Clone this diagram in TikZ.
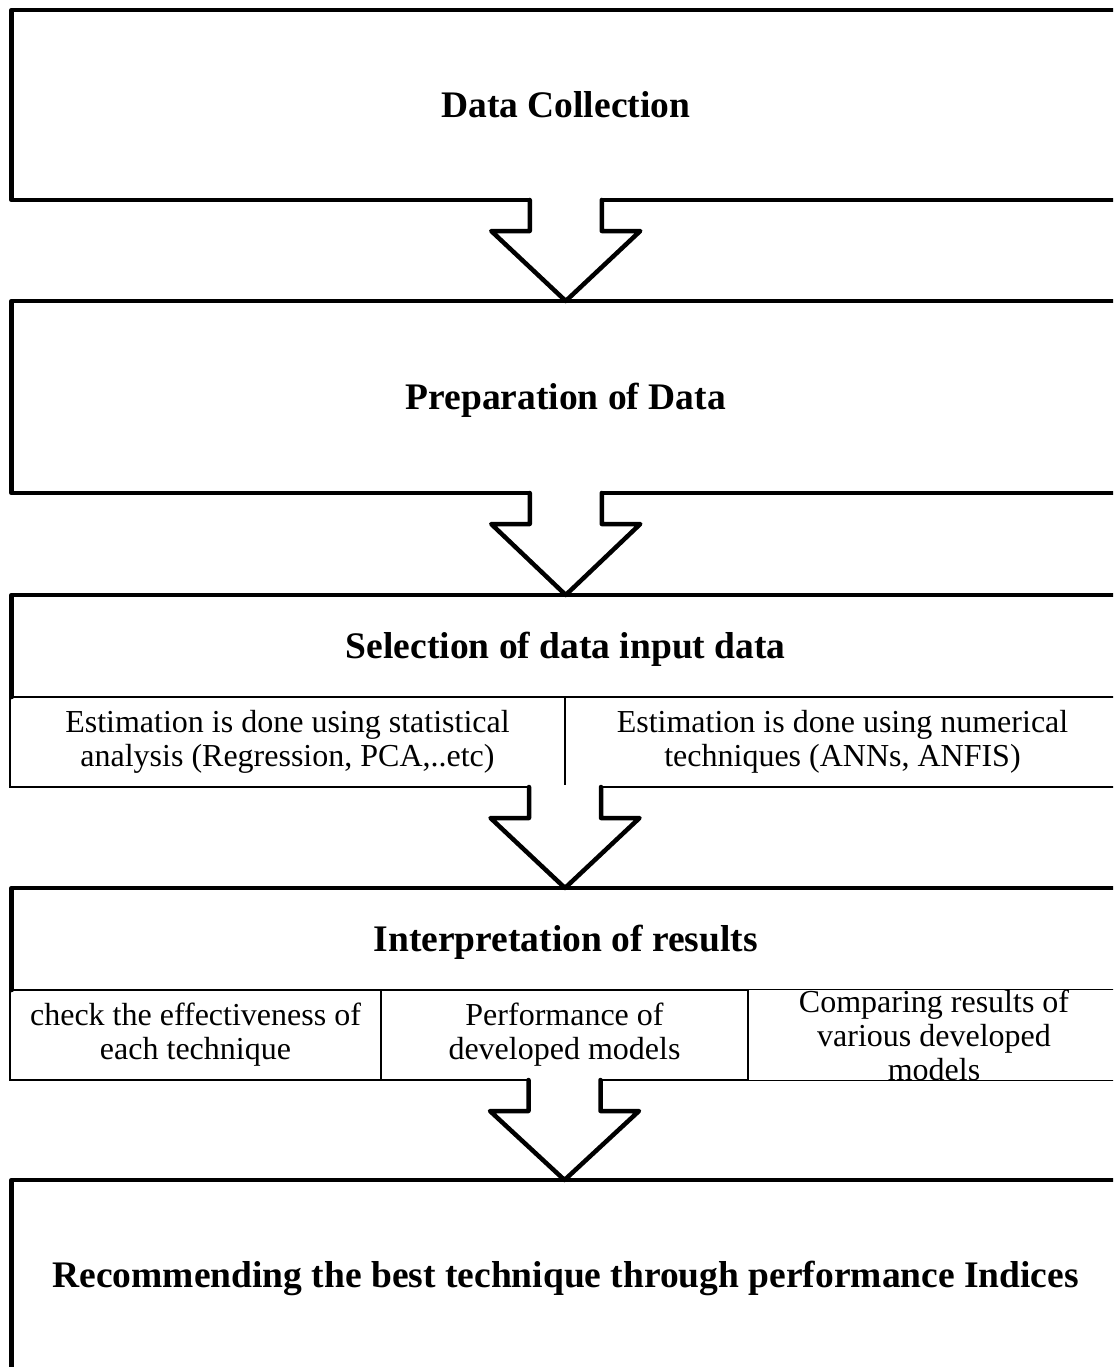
\documentclass[tikz,border=0pt]{standalone}
\usepackage{fontspec}
\setmainfont{Liberation Serif}
\usetikzlibrary{calc}
\newcommand\flowarrow[2]{%
  \fill[white] ($(#1)+(-36pt,2.5pt)$) rectangle ($(#1)+(36pt,-31pt)$);
  \draw[heavy] ($(#1)+(-36pt,0pt)$) -- ($(#1)+(-36pt,-31pt)$) -- ($(#1)+(-74.5pt,-31pt)$)
     -- (#1 |- #2) -- ($(#1)+(74.5pt,-31pt)$) -- ($(#1)+(36pt,-31pt)$) -- ($(#1)+(36pt,0pt)$);
}
\begin{document}
\begin{tikzpicture}[x=1pt,y=-1pt,
  heavy/.style={line width=4.5pt, line join=round, line cap=round},
  light/.style={line width=1.8pt},
  titletext/.style={font=\fontsize{37.5}{42}\selectfont\bfseries, text height=25pt, text depth=0pt},
  celltext/.style={font=\fontsize{32}{34}\selectfont, align=center},
  box/.style={rectangle, inner sep=0pt, outer sep=0pt, heavy, draw},
  plainbox/.style={rectangle, inner sep=0pt, outer sep=0pt},
  cell/.style={rectangle, inner sep=0pt, outer sep=0pt, light, draw, celltext, minimum height=90pt},
]
\useasboundingbox (0,0) rectangle (1113,1367);
\clip (0,0) rectangle (1113,1367);

% Box 1
\node[box, titletext, minimum width=1108.5pt, minimum height=190pt] (b1) at (565.75,105) {Data Collection};
% Box 2
\node[box, titletext, minimum width=1108.5pt, minimum height=192pt] (b2) at (565.75,397) {Preparation of Data};
% Box 3
\node[plainbox, titletext, minimum width=1108.5pt, minimum height=102pt] (b3) at (565.75,646) {Selection of data input data};
\node[cell, minimum width=555pt] (c31) at (287.5,742) {Estimation is done using statistical\\analysis (Regression, PCA,..etc)};
\node[cell, minimum width=555pt] (c32) at (842.5,742) {Estimation is done using numerical\\techniques (ANNs, ANFIS)};
\draw[heavy] (b3.south west) -- (b3.north west) -- (b3.north east) -- (b3.south east);
% Box 4
\node[plainbox, titletext, minimum width=1108.5pt, minimum height=102pt] (b4) at (565.75,939) {Interpretation of results};
\node[cell, minimum width=371pt] (c41) at (195.5,1035) {check the effectiveness of\\each technique};
\node[cell, minimum width=367pt] (c42) at (564.5,1035) {Performance of\\developed models};
\node[cell, minimum width=372pt] (c43) at (934,1035) {Comparing results of\\various developed\\models};
\draw[heavy] (b4.south west) -- (b4.north west) -- (b4.north east) -- (b4.south east);
% Box 5
\node[box, titletext, minimum width=1108.5pt, minimum height=190pt] (b5) at (565.75,1275) {Recommending the best technique through performance Indices};

% Arrows
\flowarrow{b1.south}{b2.north}
\flowarrow{b2.south}{b3.north}
\flowarrow{c31.south east}{b4.north}
\flowarrow{c42.south}{b5.north}
\end{tikzpicture}
\end{document}
